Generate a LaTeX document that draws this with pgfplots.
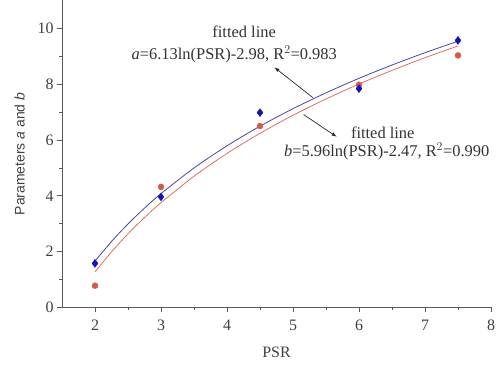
\documentclass[border=0pt]{standalone}
\usepackage{fontspec}
\setmainfont{Liberation Serif}
\setsansfont{Liberation Sans}
\usepackage{pgfplots}
\pgfplotsset{compat=1.18}
\definecolor{ablue}{RGB}{20,20,190}
\definecolor{bred}{RGB}{215,90,70}
\definecolor{lblue}{RGB}{70,70,170}
\definecolor{lred}{RGB}{225,110,90}
\begin{document}
\begin{tikzpicture}
\begin{axis}[
  scale only axis,
  width=429bp, height=307bp,
  xmin=1.5, xmax=8, ymin=0, ymax=11,
  axis x line=bottom, axis y line=left,
  axis line style={-, draw=black!65, line width=0.9pt},
  xtick={2,3,4,5,6,7,8}, ytick={0,2,4,6,8,10},
  minor x tick num=1, minor y tick num=1,
  tick align=outside,
  major tick length=5bp, minor tick length=3bp,
  tick style={black!65, line width=0.8pt},
  /pgf/number format/assume math mode=true,
  ticklabel style={font=\fontsize{16}{18}\selectfont, text=black!75},
  xticklabel style={yshift=-4bp},
  xlabel={PSR},
  ylabel={\sffamily Parameters \textit{a} and \textit{b}},
  xlabel style={font=\fontsize{16}{18}\selectfont, text=black!75, yshift=-9bp},
  ylabel style={font=\fontsize{14}{16}\selectfont, text=black!75, yshift=6bp},
  clip=false,
]
% fitted curves
\addplot[lred, line width=0.8pt, smooth] coordinates {
(2,1.269)(2.25,1.991)(2.5,2.637)(2.75,3.221)(3,3.754)(3.5,4.700)(4,5.518)(4.5,6.240)(5,6.886)(5.5,7.470)(6,8.004)(6.5,8.494)(7,8.948)(7.5,9.371)};
\addplot[lblue, line width=0.8pt, smooth] coordinates {
(2,1.661)(2.25,2.363)(2.5,2.991)(2.75,3.559)(3,4.078)(3.5,4.997)(4,5.792)(4.5,6.494)(5,7.122)(5.5,7.690)(6,8.209)(6.5,8.686)(7,9.128)(7.5,9.539)};
% data
\addplot[only marks, mark=*, mark size=3pt, color=bred] coordinates {
(2,0.78)(3,4.32)(4.5,6.5)(6,7.98)(7.5,9.03)};
\addplot[only marks, mark=diamond*, mark size=4pt, color=ablue] coordinates {
(2,1.58)(3,3.96)(4.5,6.98)(6,7.84)(7.5,9.57)};
% annotations
\node[font=\fontsize{16.5}{18}\selectfont, text=black!80] at (axis cs:4.26,9.86) {fitted line};
\node[font=\fontsize{16.5}{18}\selectfont, text=black!80] at (axis cs:4.11,9.06) {\textit{a}=6.13ln(PSR)-2.98, R$^2$=0.983};
\draw[-latex, black!85, line width=0.7pt] (axis cs:5.30,7.52) -- (axis cs:4.72,8.60);
\draw[-latex, black!85, line width=0.7pt] (axis cs:5.16,6.91) -- (axis cs:5.66,6.12);
\node[font=\fontsize{16.5}{18}\selectfont, text=black!80] at (axis cs:6.36,6.26) {fitted line};
\node[font=\fontsize{16.5}{18}\selectfont, text=black!80] at (axis cs:6.42,5.58) {\textit{b}=5.96ln(PSR)-2.47, R$^2$=0.990};
\end{axis}
\path[use as bounding box] (current axis.south west) ++(-62bp,-57bp) rectangle ++(503bp,364bp);
\end{tikzpicture}
\end{document}
